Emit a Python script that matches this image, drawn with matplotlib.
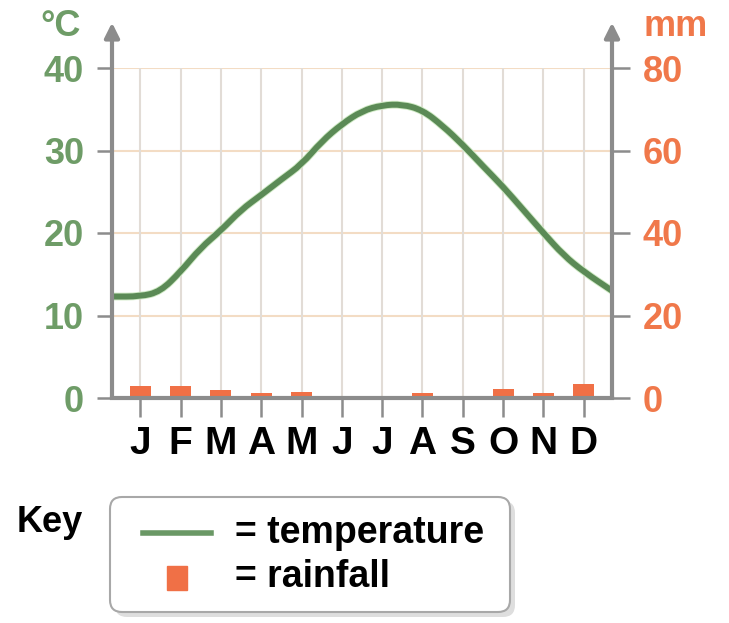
import matplotlib
matplotlib.use("Agg")
import matplotlib.pyplot as plt
from matplotlib.patches import FancyBboxPatch, Rectangle, PathPatch
from matplotlib.lines import Line2D
from matplotlib.path import Path

# month positions, J = 0 ... D = 11; edges of the plot at -0.7 and 11.7
months = ["J", "F", "M", "A", "M", "J", "J", "A", "S", "O", "N", "D"]
rainfall = [2.8, 2.8, 1.9, 1.2, 1.4, 0.0, 0.0, 1.3, 0.0, 2.1, 1.2, 3.3]  # mm

# temperature curve (half-month steps)
temp_x = [-0.7, 0.0, 0.5, 1.0, 1.5, 2.0, 2.5, 3.0, 3.5, 4.0, 4.5, 5.0, 5.5,
          6.0, 6.5, 7.0, 7.5, 8.0, 8.5, 9.0, 9.5, 10.0, 10.5, 11.0, 11.7]
temp_c = [12.3, 12.3, 12.9, 15.3, 18.2, 20.3, 22.8, 24.6, 26.5, 28.3, 31.1, 33.2, 34.8,
          35.5, 35.6, 34.9, 33.0, 30.7, 28.1, 25.6, 22.8, 20.0, 17.3, 15.3, 13.0]

temp_ticks = [0, 10, 20, 30, 40]
rain_ticks = [0, 20, 40, 60, 80]

GREEN = "#5b8a56"
GREEN_TXT = "#6e9c67"
ORANGE = "#f07046"
ORANGE_TXT = "#f0784a"
GREY = "#8c8c8c"
FONT = "Liberation Sans"
NARROW = ["Liberation Sans Narrow", "Liberation Sans"]

W, H = 729, 623
fig = plt.figure(figsize=(W / 100, H / 100), dpi=100)


def fx(x):
    return x / W


def fy(y):
    return 1 - y / H


def smooth_path(xs, ys):
    # quadratic bezier through the midpoints, data points as control points
    verts = [(xs[0], ys[0]), ((xs[0] + xs[1]) / 2, (ys[0] + ys[1]) / 2)]
    codes = [Path.MOVETO, Path.LINETO]
    for i in range(1, len(xs) - 1):
        verts += [(xs[i], ys[i]), ((xs[i] + xs[i + 1]) / 2, (ys[i] + ys[i + 1]) / 2)]
        codes += [Path.CURVE3, Path.CURVE3]
    verts.append((xs[-1], ys[-1]))
    codes.append(Path.LINETO)
    return Path(verts, codes)


ax = fig.add_axes([fx(112), fy(398), (612 - 112) / W, (398 - 68) / H])
ax.set_xlim(-0.7, 11.7)
ax.set_ylim(0, 40)
for s in ax.spines.values():
    s.set_visible(False)

# grid
for t in temp_ticks[1:]:
    ax.plot([-0.7, 11.7], [t, t], color="#f3dcc4", lw=1.5, zorder=0)
for i in range(len(months)):
    ax.plot([i, i], [0, 40], color="#e2dcd6", lw=1.5, zorder=0)

# temperature line with soft halo
curve = smooth_path(temp_x, temp_c)
ax.add_patch(PathPatch(curve, fill=False, edgecolor="#cfeac4", lw=5.6,
                       capstyle="butt", zorder=3))
ax.add_patch(PathPatch(curve, fill=False, edgecolor=GREEN, lw=4.3,
                       capstyle="butt", joinstyle="round", zorder=4))

ax.set_yticks(temp_ticks)
ax.set_yticklabels([str(t) for t in temp_ticks])
ax.tick_params(axis="y", length=11, width=1.8, color=GREY, pad=9,
               labelsize=26, labelcolor=GREEN_TXT)
ax.set_xticks(range(len(months)))
ax.set_xticklabels(months)
ax.tick_params(axis="x", length=14, width=1.8, color=GREY, pad=6,
               labelsize=28, labelcolor="black")
for lab in ax.get_yticklabels():
    lab.set_fontfamily(FONT)
    lab.set_fontweight("bold")
for lab in ax.get_xticklabels():
    lab.set_fontfamily(NARROW)
    lab.set_fontweight("bold")

# rainfall on the right axis
ax2 = ax.twinx()
ax2.set_ylim(0, 80)
for s in ["top", "left", "right"]:
    ax2.spines[s].set_visible(False)
ax2.spines["bottom"].set_color(GREY)
ax2.spines["bottom"].set_linewidth(3)
ax2.bar(range(len(months)), rainfall, width=0.52, color=ORANGE, zorder=1)
ax2.set_yticks(rain_ticks)
ax2.set_yticklabels([str(t) for t in rain_ticks])
ax2.tick_params(axis="y", length=13, width=1.8, color=GREY, pad=9,
                labelsize=26, labelcolor=ORANGE_TXT)
for lab in ax2.get_yticklabels():
    lab.set_fontfamily(FONT)
    lab.set_fontweight("bold")

# vertical axes with arrow heads
for xa in (-0.7, 11.7):
    ax2.annotate("", xy=(xa, 91), xytext=(xa, 0), xycoords="data",
                 arrowprops=dict(arrowstyle="-|>", color=GREY, lw=3,
                                 mutation_scale=22, shrinkA=0, shrinkB=0),
                 annotation_clip=False)

# axis units
fig.text(fx(61), fy(26), "°C", color=GREEN_TXT, fontsize=26, family=FONT,
         fontweight="bold", ha="center", va="center")
fig.text(fx(644), fy(26), "mm", color=ORANGE_TXT, fontsize=26, family=FONT,
         fontweight="bold", ha="left", va="center")

# key
inch = fig.dpi_scale_trans
fig.text(fx(17), fy(523), "Key", fontsize=26, fontweight="bold", family=FONT,
         ha="left", va="center")
shadow = FancyBboxPatch((115 / 100, (H - 617) / 100), 4.0, 1.16,
                        boxstyle="round,pad=0,rounding_size=0.12",
                        transform=inch, facecolor="#c8c8c8", edgecolor="none", alpha=0.6)
box = FancyBboxPatch((110 / 100, (H - 612) / 100), 4.0, 1.15,
                     boxstyle="round,pad=0,rounding_size=0.12",
                     transform=inch, facecolor="white", edgecolor="#a8a8a8", lw=1.5)
fig.patches.extend([shadow, box])
fig.lines.append(Line2D([fx(143), fx(211)], [fy(533), fy(533)], color="#6a9865", lw=4,
                        transform=fig.transFigure))
fig.patches.append(Rectangle((fx(167), fy(590)), 20 / W, 24 / H, color=ORANGE,
                             transform=fig.transFigure))
fig.text(fx(235), fy(533), "= temperature", fontsize=27, fontweight="bold", family=FONT,
         ha="left", va="center")
fig.text(fx(235), fy(577), "= rainfall", fontsize=27, fontweight="bold", family=FONT,
         ha="left", va="center")

fig.savefig("out.png", dpi=100)
